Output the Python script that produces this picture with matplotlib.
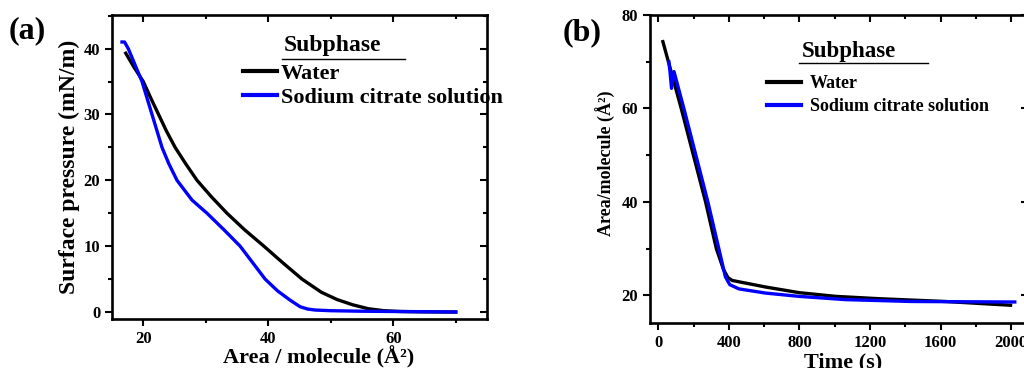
import matplotlib
matplotlib.use("Agg")
import matplotlib.pyplot as plt
from matplotlib.ticker import MultipleLocator
from matplotlib.lines import Line2D

plt.rcParams['font.family'] = ['Liberation Serif', 'DejaVu Serif']
plt.rcParams['font.weight'] = 'bold'

# ---------------- data: panel (a) pressure-area isotherm ----------------
water_area = [17.2, 18.5, 20.0, 21.2, 22.45, 23.7, 25.1, 26.8, 28.6, 30.9, 33.4, 36.2, 39.3,
              42.3, 45.4, 48.5, 51.0, 53.5, 56.0, 58.5, 61.0, 65.0, 70.0]
water_pi   = [39.3, 37.2, 35.0, 32.5, 30.0, 27.5, 25.0, 22.5, 20.0, 17.5, 15.0, 12.5, 10.0,
              7.5, 5.0, 3.0, 1.9, 1.1, 0.5, 0.2, 0.08, 0.02, 0.0]
citrate_area = [16.6, 17.0, 17.6, 18.7, 19.8, 20.6, 21.4, 22.2, 23.0, 24.1, 25.4, 27.8, 30.2,
                32.9, 35.5, 37.5, 39.5, 41.5, 43.5, 45.1, 46.3, 47.5, 50.0, 55.0, 60.0, 65.0, 70.0]
citrate_pi   = [41.0, 41.0, 40.0, 37.5, 35.0, 32.5, 30.0, 27.5, 25.0, 22.5, 20.0, 17.0, 15.0,
                12.5, 10.0, 7.5, 5.0, 3.2, 1.8, 0.8, 0.45, 0.3, 0.2, 0.12, 0.08, 0.05, 0.0]

# ---------------- data: panel (b) area vs time ----------------
water_t = [26, 130, 268, 329, 370, 395, 419, 608, 797, 1005, 1250, 1628, 1996]
water_A = [74.3, 60.0, 40.0, 30.0, 25.5, 23.8, 23.2, 21.8, 20.6, 19.8, 19.3, 18.7, 17.9]
citrate_t = [60, 66, 75, 89, 145, 281, 340, 380, 405, 457, 608, 797, 1061, 1439, 1985, 2020]
citrate_A = [70.0, 68.0, 64.3, 67.9, 60.0, 40.0, 30.5, 24.0, 22.3, 21.4, 20.5, 19.8, 19.1, 18.7, 18.6, 18.6]

legend_title = "Subphase"
series_labels = ["Water", "Sodium citrate solution"]
colors = ["black", "#0000ff"]

fig = plt.figure(figsize=(10.24, 3.68), dpi=100)
axA = fig.add_axes([112/1024, 1-319/368, 375/1024, 304/368])
axB = fig.add_axes([650/1024, 1-323/368, 378/1024, 308/368])

def style(ax, xmaj, xmin, ymaj, ymin):
    ax.xaxis.set_major_locator(MultipleLocator(xmaj))
    ax.xaxis.set_minor_locator(MultipleLocator(xmin))
    ax.yaxis.set_major_locator(MultipleLocator(ymaj))
    ax.yaxis.set_minor_locator(MultipleLocator(ymin))
    for s in ax.spines.values():
        s.set_linewidth(1.9)
    ax.tick_params(which='both', direction='out', width=1.5, labelsize=12,
                   top=False, right=False)
    ax.tick_params(which='major', length=5)
    ax.tick_params(which='minor', length=3)
    sec_x = ax.secondary_xaxis('top')
    sec_y = ax.secondary_yaxis('right')
    sec_x.xaxis.set_major_locator(MultipleLocator(xmaj))
    sec_x.xaxis.set_minor_locator(MultipleLocator(xmin))
    sec_y.yaxis.set_major_locator(MultipleLocator(ymaj))
    sec_y.yaxis.set_minor_locator(MultipleLocator(ymin))
    for sec in (sec_x, sec_y):
        sec.tick_params(which='both', direction='in', width=1.5)
        sec.tick_params(which='major', length=5)
        sec.tick_params(which='minor', length=3)
        for s in sec.spines.values():
            s.set_visible(False)
    sec_x.set_xticklabels([])
    sec_y.set_yticklabels([])
    for lab in ax.get_xticklabels() + ax.get_yticklabels():
        lab.set_fontweight('bold')

# ---- panel (a)
axA.plot(water_area, water_pi, color=colors[0], lw=2.4, label=series_labels[0])
axA.plot(citrate_area, citrate_pi, color=colors[1], lw=2.4, label=series_labels[1])
axA.set_xlim(15, 75)
axA.set_ylim(-1.06, 45.1)
style(axA, 20, 10, 10, 5)
axA.set_ylabel("Surface pressure (mN/m)", fontsize=17, fontweight='bold')
axA.yaxis.set_label_coords(-0.085, 0.5)
axA.set_xlabel("Area / molecule (Å²)", fontsize=16, fontweight='bold')
axA.xaxis.set_label_coords(0.55, -0.088)

fig.text(9/1024, 1-31/368, "(a)", fontsize=23, fontweight='bold', va='center', ha='left')

axA.text(0.459, 0.901, legend_title, transform=axA.transAxes, fontsize=17,
         fontweight='bold', ha='left', va='center')
axA.add_line(Line2D([0.453, 0.781], [0.855, 0.855], transform=axA.transAxes,
                    color='black', lw=1.0))
legA = axA.legend(loc='upper left', bbox_to_anchor=(0.349, 0.84), frameon=False,
                  fontsize=16, handlelength=1.55, handletextpad=0.15, labelspacing=0.15,
                  borderaxespad=0, borderpad=0)
for t in legA.get_texts():
    t.set_fontweight('bold')
for h in legA.get_lines():
    h.set_linewidth(3)

# ---- panel (b)
axB.plot(water_t, water_A, color=colors[0], lw=2.4, label=series_labels[0])
axB.plot(citrate_t, citrate_A, color=colors[1], lw=2.4, label=series_labels[1])
axB.set_xlim(-47, 2095)
axB.set_ylim(14.1, 80)
style(axB, 400, 200, 20, 10)
axB.set_ylabel("Area/molecule (Å²)", fontsize=13, fontweight='bold')
axB.yaxis.set_label_coords(-0.09, 0.52)
axB.set_xlabel("Time (s)", fontsize=16, fontweight='bold')
axB.xaxis.set_label_coords(0.51, -0.095)

fig.text(563/1024, 1-33/368, "(b)", fontsize=23, fontweight='bold', va='center', ha='left')

axB.text(0.402, 0.883, legend_title, transform=axB.transAxes, fontsize=16.5,
         fontweight='bold', ha='left', va='center')
axB.add_line(Line2D([0.394, 0.735], [0.844, 0.844], transform=axB.transAxes,
                    color='black', lw=1.0))
legB = axB.legend(loc='upper left', bbox_to_anchor=(0.31, 0.805), frameon=False,
                  fontsize=13, handlelength=1.9, handletextpad=0.45, labelspacing=0.32,
                  borderaxespad=0, borderpad=0)
for t in legB.get_texts():
    t.set_fontweight('bold')
for h in legB.get_lines():
    h.set_linewidth(3)

fig.savefig("out.png", dpi=100)
